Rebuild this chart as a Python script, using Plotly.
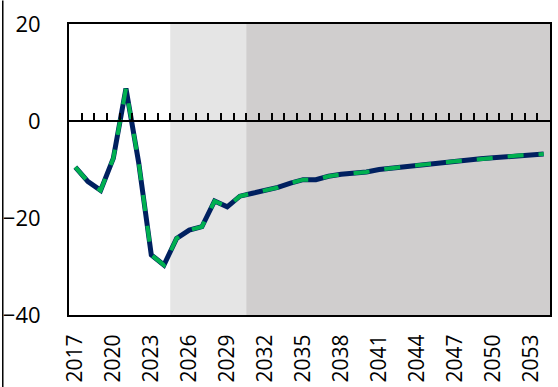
import plotly.graph_objects as go

# Annual series, 2017-2054
years = list(range(2017, 2055))
values = [
    -9.5, -12.5, -14.3, -7.7, 6.7, -8.5, -27.6, -29.7,
    -24.2, -22.5, -21.8, -16.5, -17.7, -15.5,
    -14.9, -14.3, -13.7, -12.8, -12.1, -12.1, -11.4, -11.0,
    -10.8, -10.5, -10.0, -9.7, -9.6, -9.2, -8.9, -8.5,
    -8.3, -8.1, -7.8, -7.6, -7.4, -7.1, -7.0, -6.8,
]
label_years = years[::3]
y_ticks = [-40, -20, 0, 20]

# Shaded periods (first year, last year)
near_term = (2025, 2030)
long_term = (2031, 2054)

W, H = 558, 387
ML, MR, MT, MB = 69, 7.5, 23.5, 72
FONT = "Open Sans"

fig = go.Figure()
fig.add_trace(go.Scatter(
    x=years, y=values, mode="lines",
    line=dict(color="#002060", width=5),
    hoverinfo="skip", showlegend=False,
))
fig.add_trace(go.Scatter(
    x=years, y=values, mode="lines",
    line=dict(color="#00B050", width=4, dash="16px,15px"),
    showlegend=False,
))

x_range = [years[0] - 0.5, years[-1] + 0.5]

for (a, b), col in [(near_term, "#E5E5E5"), (long_term, "#D0CECE")]:
    fig.add_shape(type="rect", xref="x", yref="paper",
                  x0=a - 0.5, x1=b + 0.5, y0=0, y1=1,
                  fillcolor=col, line_width=0, layer="below")

# Thin frame line at the left edge of the figure
plot_w = W - ML - MR
plot_h = H - MT - MB
fig.add_shape(type="line", xref="paper", yref="paper",
              x0=-(ML - 2.7) / plot_w, x1=-(ML - 2.7) / plot_w,
              y0=-MB / plot_h, y1=(plot_h + MT) / plot_h,
              line=dict(color="#000000", width=1.5))

fig.update_layout(
    width=W, height=H,
    margin=dict(l=ML, r=MR, t=MT, b=MB, pad=0, autoexpand=False),
    paper_bgcolor="white", plot_bgcolor="white",
    font=dict(family=FONT, size=21, color="#000000"),
    xaxis=dict(
        range=x_range, tickmode="array",
        tickvals=label_years, ticktext=[str(y) for y in label_years],
        tickangle=-90, ticks="", showgrid=False, zeroline=False,
        showline=True, linecolor="#000000", linewidth=2, mirror=True,
        ticklabelstandoff=9, automargin=False,
        tickfont=dict(size=21),
    ),
    xaxis2=dict(
        range=x_range, overlaying="x", anchor="free",
        position=(0 - y_ticks[0]) / (y_ticks[-1] - y_ticks[0]),
        side="top", tickmode="array",
        tickvals=[y + 0.5 for y in years[:-1]],
        ticks="outside", ticklen=7, tickwidth=1.5, tickcolor="#000000",
        showticklabels=False, showgrid=False, zeroline=False,
        showline=True, linecolor="#000000", linewidth=2, automargin=False,
    ),
    yaxis=dict(
        range=[y_ticks[0], y_ticks[-1]], tickmode="array", tickvals=y_ticks,
        ticks="", showgrid=False, zeroline=False,
        showline=True, linecolor="#000000", linewidth=2, mirror=True,
        ticklabelstandoff=22, automargin=False,
        tickfont=dict(size=22),
    ),
)
# invisible point that puts the zero-line axis on the chart
fig.add_trace(go.Scatter(x=[years[0]], y=[0], xaxis="x2", mode="markers",
                         marker=dict(opacity=0), hoverinfo="skip",
                         showlegend=False))

fig.write_html("out.html")
